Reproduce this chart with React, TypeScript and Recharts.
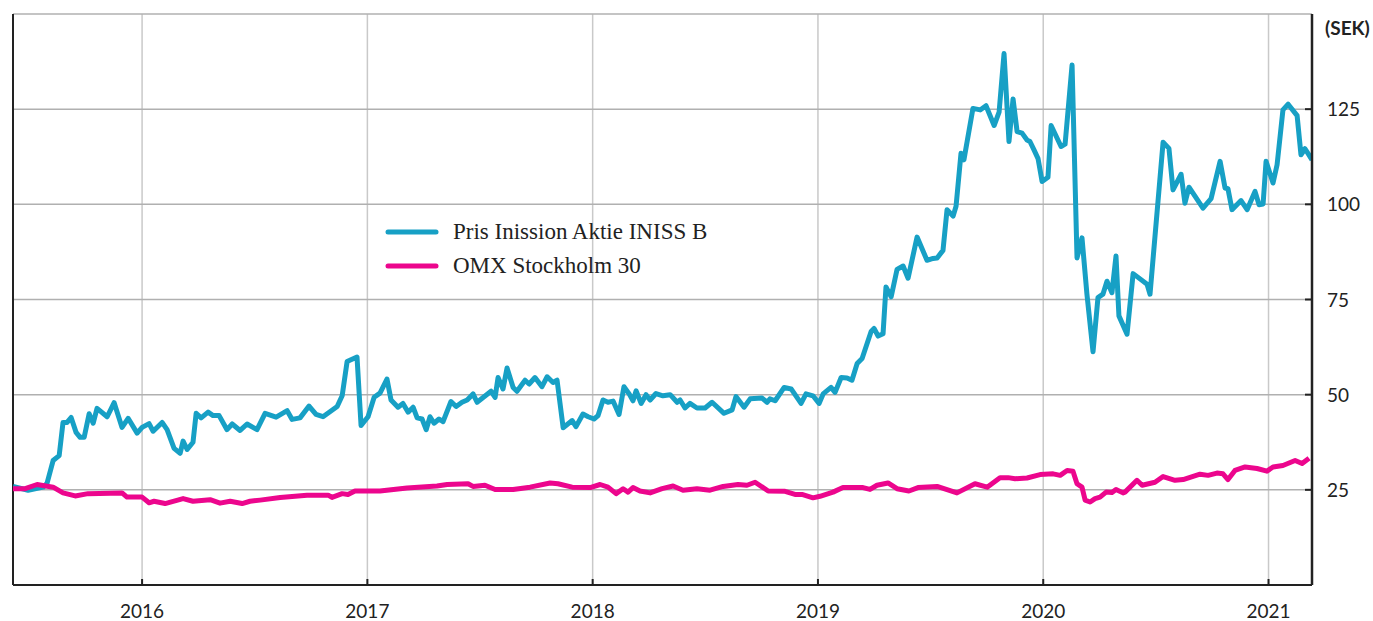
import React from 'react';
import {
  LineChart,
  Line,
  XAxis,
  YAxis,
  CartesianGrid,
  ReferenceLine,
  Legend
} from 'recharts';

// Inission B share price (SEK), sampled off the chart
const inissionDates = [
  2015.427, 2015.494, 2015.561, 2015.578, 2015.605, 2015.632, 2015.649, 2015.667, 2015.685, 2015.707,
  2015.725, 2015.743, 2015.765, 2015.783, 2015.8, 2015.845, 2015.876, 2015.911, 2015.938, 2015.978,
  2016.0, 2016.031, 2016.049, 2016.089, 2016.111, 2016.142, 2016.169, 2016.182, 2016.2, 2016.226,
  2016.24, 2016.262, 2016.293, 2016.315, 2016.342, 2016.377, 2016.4, 2016.435, 2016.466, 2016.51,
  2016.546, 2016.595, 2016.644, 2016.666, 2016.701, 2016.741, 2016.772, 2016.803, 2016.866, 2016.888,
  2016.91, 2016.954, 2016.972, 2017.003, 2017.03, 2017.056, 2017.087, 2017.105, 2017.136, 2017.158,
  2017.181, 2017.203, 2017.221, 2017.243, 2017.261, 2017.278, 2017.296, 2017.318, 2017.336, 2017.371,
  2017.394, 2017.42, 2017.443, 2017.469, 2017.487, 2017.549, 2017.567, 2017.58, 2017.602, 2017.62,
  2017.647, 2017.664, 2017.7, 2017.718, 2017.744, 2017.775, 2017.798, 2017.824, 2017.842, 2017.869,
  2017.909, 2017.926, 2017.957, 2017.98, 2018.006, 2018.024, 2018.046, 2018.068, 2018.091, 2018.117,
  2018.139, 2018.162, 2018.179, 2018.193, 2018.215, 2018.237, 2018.255, 2018.281, 2018.312, 2018.344,
  2018.375, 2018.388, 2018.41, 2018.432, 2018.463, 2018.499, 2018.53, 2018.583, 2018.619, 2018.636,
  2018.672, 2018.699, 2018.752, 2018.774, 2018.787, 2018.81, 2018.85, 2018.881, 2018.925, 2018.947,
  2018.978, 2019.005, 2019.023, 2019.058, 2019.076, 2019.103, 2019.129, 2019.151, 2019.174, 2019.196,
  2019.236, 2019.249, 2019.267, 2019.289, 2019.302, 2019.325, 2019.351, 2019.378, 2019.4, 2019.44,
  2019.484, 2019.511, 2019.529, 2019.555, 2019.573, 2019.6, 2019.613, 2019.635, 2019.648, 2019.688,
  2019.72, 2019.746, 2019.782, 2019.804, 2019.826, 2019.848, 2019.866, 2019.884, 2019.906, 2019.928,
  2019.941, 2019.959, 2019.977, 2019.995, 2020.021, 2020.035, 2020.079, 2020.097, 2020.128, 2020.15,
  2020.172, 2020.194, 2020.221, 2020.243, 2020.265, 2020.283, 2020.305, 2020.323, 2020.336, 2020.372,
  2020.399, 2020.461, 2020.474, 2020.532, 2020.558, 2020.576, 2020.612, 2020.629, 2020.647, 2020.709,
  2020.745, 2020.785, 2020.807, 2020.82, 2020.838, 2020.878, 2020.905, 2020.94, 2020.958, 2020.976,
  2020.989, 2021.02, 2021.038, 2021.064, 2021.087, 2021.127, 2021.144, 2021.162, 2021.193
];
const inissionPrices = [
  25.9, 24.9, 25.7, 26.7, 32.7, 34.0, 42.7, 42.7, 44.0, 40.1,
  38.8, 38.8, 45.0, 42.5, 46.4, 44.2, 47.9, 41.4, 43.8, 39.9,
  41.4, 42.4, 40.4, 42.7, 40.8, 35.9, 34.6, 37.8, 35.6, 37.5,
  45.1, 43.9, 45.4, 44.5, 44.5, 40.8, 42.3, 40.6, 42.3, 40.8,
  45.1, 44.1, 45.8, 43.5, 43.9, 47.0, 44.8, 44.2, 46.9, 49.7,
  58.7, 59.9, 41.9, 44.2, 49.3, 50.4, 54.1, 48.6, 46.7, 47.7,
  45.4, 46.7, 43.9, 43.6, 40.8, 44.2, 42.5, 43.6, 42.9, 48.2,
  46.9, 48.0, 48.6, 50.2, 48.0, 50.9, 49.3, 54.5, 51.5, 57.0,
  51.9, 50.9, 53.8, 52.8, 54.5, 52.1, 54.7, 53.2, 53.8, 41.3,
  43.2, 41.6, 44.9, 44.2, 43.6, 44.5, 48.6, 48.0, 48.3, 44.8,
  52.1, 50.2, 48.4, 51.0, 47.7, 50.0, 48.6, 50.3, 49.7, 50.0,
  48.0, 48.6, 46.5, 47.7, 46.5, 46.5, 48.0, 45.1, 46.0, 49.5,
  46.7, 48.9, 49.1, 48.0, 48.9, 48.4, 51.9, 51.5, 47.7, 50.2,
  49.7, 47.7, 50.2, 51.9, 50.6, 54.5, 54.4, 53.8, 58.2, 59.5,
  66.6, 67.4, 65.4, 66.0, 78.3, 75.7, 82.9, 83.8, 80.6, 91.4,
  85.3, 85.8, 85.9, 87.9, 98.6, 96.9, 99.5, 113.4, 111.7, 125.2,
  124.8, 125.9, 120.7, 124.2, 139.6, 116.5, 127.7, 119.1, 118.7, 116.9,
  116.5, 114.3, 112.0, 106.0, 107.1, 120.7, 115.2, 115.8, 136.6, 85.9,
  91.2, 76.4, 61.3, 75.5, 76.4, 79.8, 76.8, 86.4, 70.7, 65.9,
  81.8, 79.0, 76.4, 116.3, 114.7, 103.8, 107.9, 100.3, 104.5, 99.0,
  101.5, 111.3, 104.3, 104.1, 98.6, 101.0, 98.6, 103.4, 99.9, 100.1,
  111.3, 105.6, 110.4, 124.8, 126.3, 123.3, 113.0, 114.6, 111.7
];

// OMX Stockholm 30, rebased to the share price at the start
const omxDates = [
  2015.427, 2015.481, 2015.534, 2015.605, 2015.649, 2015.703, 2015.76, 2015.911, 2015.933, 2016.0,
  2016.031, 2016.053, 2016.102, 2016.182, 2016.226, 2016.302, 2016.346, 2016.391, 2016.444, 2016.479,
  2016.524, 2016.613, 2016.732, 2016.826, 2016.843, 2016.888, 2016.914, 2016.945, 2017.056, 2017.176,
  2017.309, 2017.354, 2017.447, 2017.469, 2017.522, 2017.567, 2017.647, 2017.722, 2017.811, 2017.846,
  2017.909, 2017.989, 2018.033, 2018.068, 2018.104, 2018.135, 2018.157, 2018.179, 2018.21, 2018.255,
  2018.308, 2018.357, 2018.401, 2018.463, 2018.521, 2018.579, 2018.645, 2018.685, 2018.721, 2018.779,
  2018.854, 2018.898, 2018.929, 2018.978, 2019.009, 2019.067, 2019.111, 2019.2, 2019.231, 2019.262,
  2019.311, 2019.351, 2019.404, 2019.444, 2019.529, 2019.617, 2019.697, 2019.751, 2019.808, 2019.844,
  2019.875, 2019.928, 2019.986, 2020.044, 2020.075, 2020.106, 2020.132, 2020.15, 2020.172, 2020.186,
  2020.208, 2020.23, 2020.252, 2020.279, 2020.305, 2020.323, 2020.354, 2020.363, 2020.416, 2020.439,
  2020.496, 2020.532, 2020.585, 2020.621, 2020.696, 2020.732, 2020.771, 2020.798, 2020.82, 2020.851,
  2020.896, 2020.949, 2020.993, 2021.02, 2021.064, 2021.118, 2021.149, 2021.18
];
const omxValues = [
  25.3, 25.3, 26.4, 25.7, 24.2, 23.4, 24.0, 24.2, 23.1, 23.1,
  21.6, 22.0, 21.4, 22.7, 22.0, 22.4, 21.5, 22.0, 21.4, 22.0,
  22.3, 23.0, 23.6, 23.6, 23.0, 24.0, 23.8, 24.7, 24.7, 25.5,
  26.0, 26.4, 26.6, 25.9, 26.2, 25.1, 25.1, 25.7, 26.8, 26.6,
  25.7, 25.6, 26.4, 25.7, 24.0, 25.3, 24.4, 25.6, 24.7, 24.2,
  25.3, 26.0, 24.9, 25.3, 24.9, 25.9, 26.4, 26.2, 27.0, 24.7,
  24.6, 23.8, 23.8, 22.9, 23.3, 24.4, 25.6, 25.6, 25.1, 26.2,
  26.8, 25.3, 24.7, 25.6, 25.9, 24.2, 26.6, 25.7, 28.2, 28.2,
  27.9, 28.1, 29.0, 29.2, 28.8, 30.1, 29.9, 26.6, 25.7, 22.3,
  21.8, 22.7, 23.1, 24.4, 24.3, 25.1, 24.2, 24.4, 27.5, 26.2,
  27.0, 28.5, 27.5, 27.7, 29.1, 28.8, 29.4, 29.2, 27.7, 30.1,
  31.0, 30.6, 29.9, 31.0, 31.4, 32.7, 31.9, 33.3
];

const seriesNames = ['Pris Inission Aktie INISS B', 'OMX Stockholm 30'];
const yearTicks = [2016, 2017, 2018, 2019, 2020, 2021];
const priceTicks = [25, 50, 75, 100, 125];
const X_MIN = 2015.427;
const X_MAX = 2021.193;

const BLUE = '#17a0c5';
const PINK = '#ec068d';
const INK = '#222222';

const inissionData = inissionDates.map((t, i) => ({ t, value: inissionPrices[i] }));
const omxData = omxDates.map((t, i) => ({ t, value: omxValues[i] }));

const tickFont = 'Lato, "Open Sans", sans-serif';

const YearTick = ({ x, y, payload }: any) => (
  <g>
    <line x1={x} x2={x} y1={y - 6} y2={y} stroke={INK} strokeWidth={2} />
    <text x={x} y={y + 33} textAnchor="middle" fill={INK} fontSize={19} fontFamily={tickFont}>
      {payload.value}
    </text>
  </g>
);

const PriceTick = ({ x, y, payload }: any) => (
  <g>
    <line x1={x - 7} x2={x} y1={y} y2={y} stroke={INK} strokeWidth={2} />
    <text x={x + 15} y={y + 7} textAnchor="start" fill={INK} fontSize={19} fontFamily={tickFont}>
      {payload.value}
    </text>
  </g>
);

const renderLegend = ({ payload }: any) => {
  const items = [...(payload || [])].sort(
    (a: any, b: any) => seriesNames.indexOf(a.value) - seriesNames.indexOf(b.value)
  );
  return (
    <div style={{ fontFamily: '"Liberation Serif", "DejaVu Serif", serif', fontSize: 23, color: INK }}>
      {items.map((entry: any) => (
        <div key={entry.value} style={{ display: 'flex', alignItems: 'center', height: 34 }}>
          <svg width={56} height={10} style={{ marginRight: 12 }}>
            <line x1={3} x2={51} y1={5} y2={5} stroke={entry.color} strokeWidth={5} strokeLinecap="round" />
          </svg>
          <span>{entry.value}</span>
        </div>
      ))}
    </div>
  );
};

export default function App() {
  return (
    <div style={{ position: 'absolute', left: 0, top: 0, width: 1373, height: 621, background: '#fff' }}>
      <LineChart width={1373} height={621} margin={{ top: 14, right: 0, left: 13, bottom: 0 }}>
        <CartesianGrid horizontal={false} stroke="#c9c9c9" strokeWidth={1.5} />
        <CartesianGrid vertical={false} stroke="#b0b0b0" strokeWidth={1.5} />
        <XAxis
          type="number"
          dataKey="t"
          domain={[X_MIN, X_MAX]}
          ticks={yearTicks}
          allowDataOverflow
          height={36}
          tickSize={0}
          tickMargin={0}
          tickLine={false}
          axisLine={{ stroke: INK, strokeWidth: 2 }}
          tick={<YearTick />}
        />
        <YAxis
          orientation="right"
          domain={[0, 150]}
          ticks={priceTicks}
          width={61}
          tickSize={0}
          tickMargin={0}
          tickLine={false}
          axisLine={{ stroke: INK, strokeWidth: 2.5 }}
          tick={<PriceTick />}
        />
        <ReferenceLine x={X_MIN} stroke={INK} strokeWidth={2} />
        <Legend
          layout="vertical"
          align="center"
          verticalAlign="middle"
          content={renderLegend}
          wrapperStyle={{ left: 385, top: 215, width: 'auto' }}
        />
        <Line
          data={inissionData}
          dataKey="value"
          name={seriesNames[0]}
          type="linear"
          stroke={BLUE}
          strokeWidth={5}
          strokeLinejoin="round"
          dot={false}
          activeDot={false}
          isAnimationActive={false}
        />
        <Line
          data={omxData}
          dataKey="value"
          name={seriesNames[1]}
          type="linear"
          stroke={PINK}
          strokeWidth={5}
          strokeLinejoin="round"
          dot={false}
          activeDot={false}
          isAnimationActive={false}
        />
      </LineChart>
      <div
        style={{
          position: 'absolute',
          left: 1325,
          top: 17,
          fontFamily: tickFont,
          fontWeight: 700,
          fontSize: 19,
          lineHeight: '22px',
          color: INK
        }}
      >
        (SEK)
      </div>
    </div>
  );
}
